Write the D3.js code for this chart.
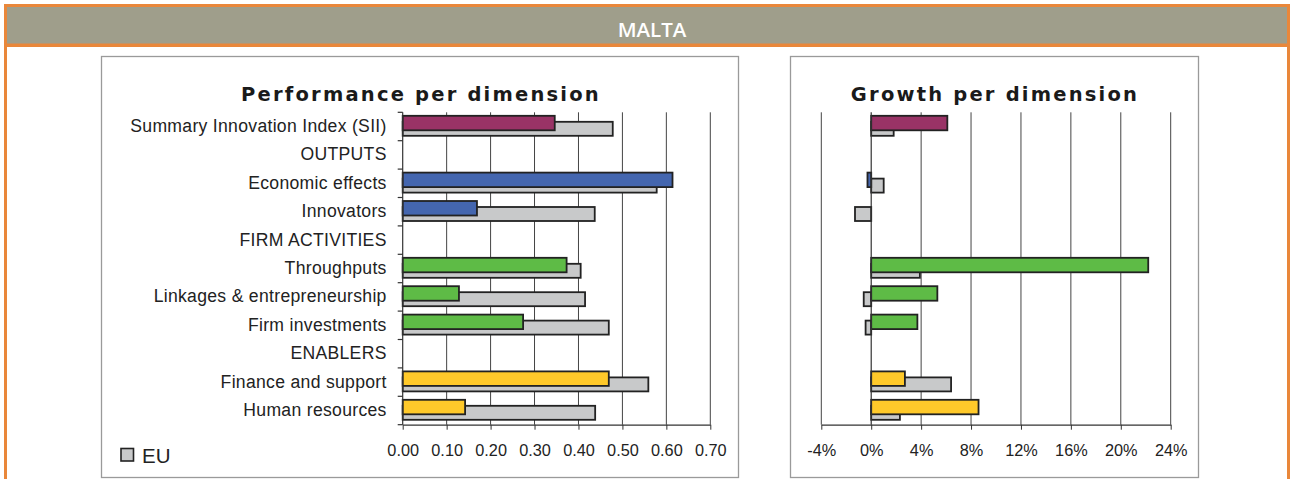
<!DOCTYPE html>
<html>
<head>
<meta charset="utf-8">
<script src="https://cdn.jsdelivr.net/npm/d3@7/dist/d3.min.js"></script>
<style>
  html, body { margin: 0; padding: 0; background: #fff; }
  svg { display: block; }
</style>
</head>
<body>
<svg id="chart" width="1290" height="479"></svg>
<script>
// Innovation dimensions, top to bottom
const categories = [
  "Summary Innovation Index (SII)", "OUTPUTS", "Economic effects", "Innovators",
  "FIRM ACTIVITIES", "Throughputs", "Linkages & entrepreneurship", "Firm investments",
  "ENABLERS", "Finance and support", "Human resources"
];
// Group each dimension belongs to (null = heading row)
const groups = ["sii", null, "outputs", "outputs", null, "firm", "firm", "firm", null, "enablers", "enablers"];

// Performance scores
const maltaPerformance = [0.346, null, 0.614, 0.169, null, 0.373, 0.128, 0.274, null, 0.469, 0.142];
const euPerformance    = [0.478, null, 0.578, 0.437, null, 0.405, 0.415, 0.469, null, 0.559, 0.438];

// Average annual growth (%)
const maltaGrowth = [6.1, null, -0.3, null, null, 22.2, 5.3, 3.7, null, 2.7, 8.6];
const euGrowth    = [1.8, null, 1.0, -1.3, null, 3.9, -0.6, -0.45, null, 6.4, 2.3];

// Axis ticks
const performanceTicks = [0, 0.1, 0.2, 0.3, 0.4, 0.5, 0.6, 0.7];
const growthTicks = [-4, 0, 4, 8, 12, 16, 20, 24];

const country = "MALTA";
const legendLabel = "EU";

const groupColor = { sii: "#993366", outputs: "#4466AF", firm: "#5EBB46", enablers: "#FFC92A" };
const euColor = "#C8C9CA";
const barStroke = "#222";

const svg = d3.select("#chart");

// ---- Header frame ----
const orange = "#E9873A";
svg.append("rect").attr("x", 4).attr("y", 4).attr("width", 1286).attr("height", 43).attr("fill", orange);
svg.append("rect").attr("x", 7).attr("y", 7).attr("width", 1280).attr("height", 36.5).attr("fill", "#9F9E8B");
svg.append("rect").attr("x", 4).attr("y", 47).attr("width", 3).attr("height", 432).attr("fill", orange);
svg.append("rect").attr("x", 1287).attr("y", 47).attr("width", 3).attr("height", 432).attr("fill", orange);
svg.append("text")
  .attr("x", 652).attr("y", 36.8)
  .attr("text-anchor", "middle")
  .attr("font-family", "'Open Sans', sans-serif")
  .attr("font-weight", 600)
  .attr("font-size", 20.5)
  .attr("fill", "#fff")
  .text(country);

// ---- Panels ----
function panel(x0, x1) {
  svg.append("rect")
    .attr("x", x0 + 0.5).attr("y", 56.5)
    .attr("width", x1 - x0).attr("height", 421)
    .attr("fill", "#fff").attr("stroke", "#9a9a9a").attr("stroke-width", 1.3);
}
panel(101, 738);
panel(790, 1198);

const plotTop = 112.3, plotBottom = 424.7;
const y = d3.scaleBand().domain(categories).range([plotTop, plotBottom]).paddingInner(0).paddingOuter(0);
const colorBar = { dy: 3.5, h: 14.5 };
const euBar = { dy: 9.5, h: 14 };

function drawChart(opts) {
  const { x, ticks, fmt, own, eu, title, titleX } = opts;
  const g = svg.append("g");

  // title
  g.append("text")
    .attr("x", titleX).attr("y", 100.7)
    .attr("text-anchor", "middle")
    .attr("font-family", "'DejaVu Sans', Verdana, sans-serif")
    .attr("font-weight", "bold")
    .attr("font-size", 19.5)
    .attr("letter-spacing", 2.2)
    .attr("fill", "#1a1a1a")
    .text(title);

  // vertical gridlines
  g.selectAll("line.grid")
    .data(ticks.filter(t => t !== 0))
    .join("line")
    .attr("class", "grid")
    .attr("x1", d => x(d)).attr("x2", d => x(d))
    .attr("y1", plotTop).attr("y2", plotBottom)
    .attr("stroke", "#444").attr("stroke-width", 1);

  // EU bars (behind)
  const idx = d3.range(categories.length);
  g.selectAll("rect.eu")
    .data(idx.filter(i => eu[i] != null))
    .join("rect")
    .attr("class", "eu")
    .attr("x", i => Math.min(x(0), x(eu[i])))
    .attr("width", i => Math.abs(x(eu[i]) - x(0)))
    .attr("y", i => y(categories[i]) + euBar.dy)
    .attr("height", euBar.h)
    .attr("fill", euColor).attr("stroke", barStroke).attr("stroke-width", 1.8);

  // Country bars
  g.selectAll("rect.own")
    .data(idx.filter(i => own[i] != null))
    .join("rect")
    .attr("class", "own")
    .attr("x", i => Math.min(x(0), x(own[i])))
    .attr("width", i => Math.abs(x(own[i]) - x(0)))
    .attr("y", i => y(categories[i]) + colorBar.dy)
    .attr("height", colorBar.h)
    .attr("fill", i => groupColor[groups[i]]).attr("stroke", barStroke).attr("stroke-width", 1.8);

  // zero line
  g.append("line")
    .attr("x1", x(0)).attr("x2", x(0))
    .attr("y1", plotTop).attr("y2", plotBottom)
    .attr("stroke", "#333").attr("stroke-width", 1.2);

  // bottom axis
  const axis = d3.axisBottom(x).tickValues(ticks).tickFormat(fmt).tickSize(5).tickSizeOuter(0).tickPadding(15);
  const ax = g.append("g").attr("transform", `translate(0,${plotBottom})`).call(axis);
  ax.select(".domain").attr("stroke", "#333").attr("stroke-width", 1.2);
  ax.selectAll(".tick line").attr("stroke", "#333");
  ax.selectAll(".tick text")
    .attr("font-family", "'Liberation Sans', Arial, sans-serif")
    .attr("font-size", 16.3)
    .attr("fill", "#222");
  return g;
}

// ---- Performance per dimension ----
const xPerf = d3.scaleLinear().domain([0, 0.7]).range([402.7, 710.3]);
const gPerf = drawChart({
  x: xPerf, ticks: performanceTicks, fmt: d3.format(".2f"),
  own: maltaPerformance, eu: euPerformance,
  title: "Performance per dimension", titleX: 421
});

// category ticks on the left axis (band boundaries)
const boundaries = categories.map(c => y(c)).concat([plotBottom]);
gPerf.selectAll("line.cat")
  .data(boundaries)
  .join("line")
  .attr("class", "cat")
  .attr("x1", xPerf(0) - 5).attr("x2", xPerf(0))
  .attr("y1", d => d).attr("y2", d => d)
  .attr("stroke", "#333").attr("stroke-width", 1.2);

// category labels
gPerf.selectAll("text.cat")
  .data(categories)
  .join("text")
  .attr("class", "cat")
  .attr("x", xPerf(0) - 16)
  .attr("y", d => y(d) + y.bandwidth() / 2 + 5.5)
  .attr("text-anchor", "end")
  .attr("font-family", "'Liberation Sans', Arial, sans-serif")
  .attr("font-size", 17.6)
  .attr("letter-spacing", 0.3)
  .attr("fill", "#222")
  .text(d => d);

// legend
const leg = svg.append("g");
leg.append("rect")
  .attr("x", 121).attr("y", 448.5).attr("width", 12.5).attr("height", 12.5)
  .attr("fill", euColor).attr("stroke", barStroke).attr("stroke-width", 1.6);
leg.append("text")
  .attr("x", 142).attr("y", 462.5)
  .attr("font-family", "'Liberation Sans', Arial, sans-serif")
  .attr("font-size", 20.5)
  .attr("fill", "#222")
  .text(legendLabel);

// ---- Growth per dimension ----
const xGrowth = d3.scaleLinear().domain([-4, 24]).range([821.3, 1170.7]);
drawChart({
  x: xGrowth, ticks: growthTicks, fmt: d => d + "%",
  own: maltaGrowth, eu: euGrowth,
  title: "Growth per dimension", titleX: 995
});
</script>
</body>
</html>
